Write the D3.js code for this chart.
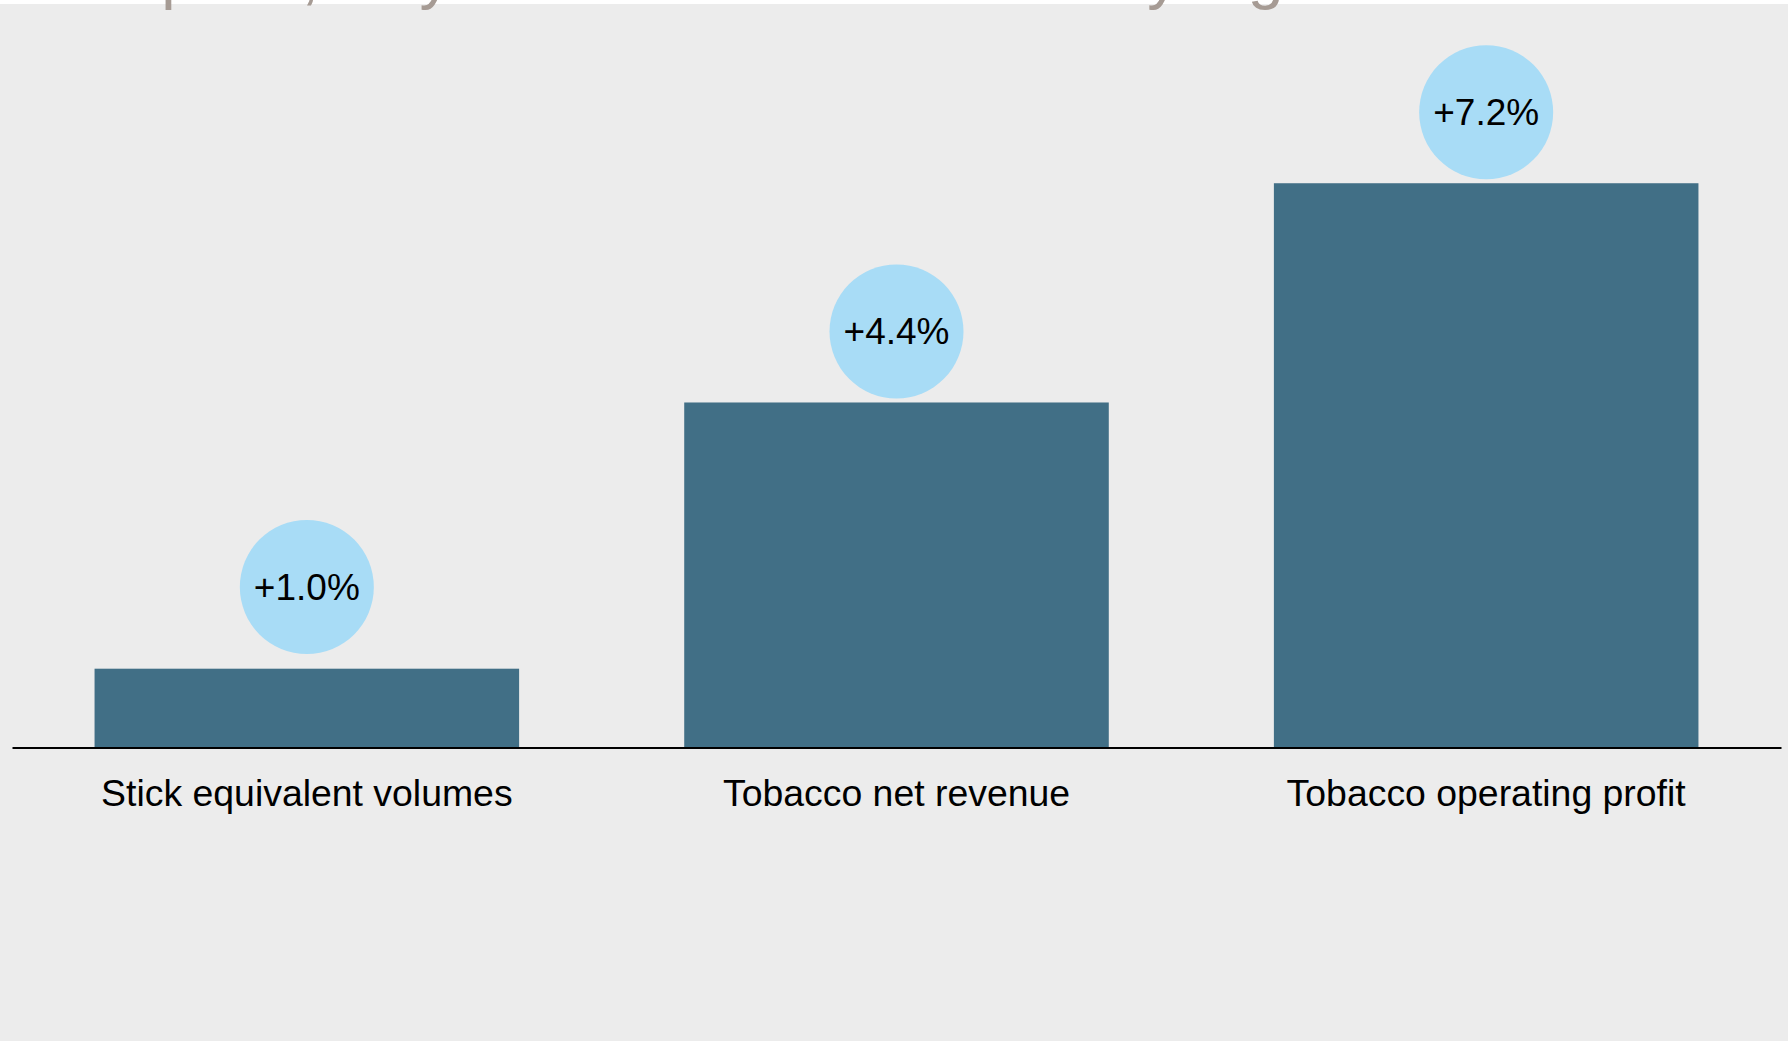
<!DOCTYPE html>
<html>
<head>
<meta charset="utf-8">
<script src="https://cdn.jsdelivr.net/npm/d3@7"></script>
<style>
  html, body { margin: 0; padding: 0; background: #ffffff; }
  svg { display: block; font-family: "Liberation Sans", Arial, sans-serif; }
</style>
</head>
<body>
<svg id="chart" width="1788" height="1041"></svg>
<script>
// Year-on-year organic growth by metric
const categories = ["Stick equivalent volumes", "Tobacco net revenue", "Tobacco operating profit"];
const growth = [1.0, 4.4, 7.2];
const growthLabels = ["+1.0%", "+4.4%", "+7.2%"];
const titleText = "Solid pace, fully on track and consistently high returns";

const W = 1788, H = 1041;
const svg = d3.select("#chart");

// page and panel background
svg.append("rect").attr("width", W).attr("height", H).attr("fill", "#ffffff");
svg.append("rect").attr("x", 0).attr("y", 4).attr("width", W).attr("height", H - 4).attr("fill", "#ececec");

// headline, running above the top edge of the frame
svg.append("text")
  .attr("x", 0).attr("y", -3.5)
  .attr("font-size", 64.5)
  .attr("fill", "#a69b94")
  .text(titleText);

const baseY = 747.5;

const x = d3.scaleBand()
  .domain(categories)
  .range([12, 1781])
  .paddingInner(0.28)
  .paddingOuter(0.14);

const y = d3.scaleLinear()
  .domain([0, 8])
  .range([747, 747 - 8 * 78.3]);

const rows = categories.map((c, i) => ({ cat: c, value: growth[i], label: growthLabels[i] }));

// bars
svg.append("g").selectAll("rect")
  .data(rows)
  .join("rect")
  .attr("x", d => x(d.cat))
  .attr("y", d => y(d.value))
  .attr("width", x.bandwidth())
  .attr("height", d => y(0) - y(d.value))
  .attr("fill", "#416f86");

// growth bubbles: sit above each bar, but keep clear of the baseline
const bubbleR = 67;
const bubbleY = d => Math.min(y(d.value) - 71, y(0) - 160);

const bubbles = svg.append("g").selectAll("g")
  .data(rows)
  .join("g")
  .attr("transform", d => `translate(${x(d.cat) + x.bandwidth() / 2},${bubbleY(d)})`);

bubbles.append("circle")
  .attr("r", bubbleR)
  .attr("fill", "#a8dcf6");

bubbles.append("text")
  .attr("text-anchor", "middle")
  .attr("dy", "0.35em")
  .attr("font-size", 37)
  .attr("fill", "#000000")
  .text(d => d.label);

// category axis
const axis = svg.append("g")
  .attr("transform", `translate(0,${baseY})`)
  .call(d3.axisBottom(x).tickSize(0).tickSizeOuter(0).tickPadding(31.5));

axis.select(".domain").attr("stroke", "#000000").attr("stroke-width", 2);
axis.selectAll(".tick text")
  .attr("font-size", 37.4)
  .attr("font-family", "Liberation Sans, Arial, sans-serif")
  .attr("fill", "#000000");
</script>
</body>
</html>
